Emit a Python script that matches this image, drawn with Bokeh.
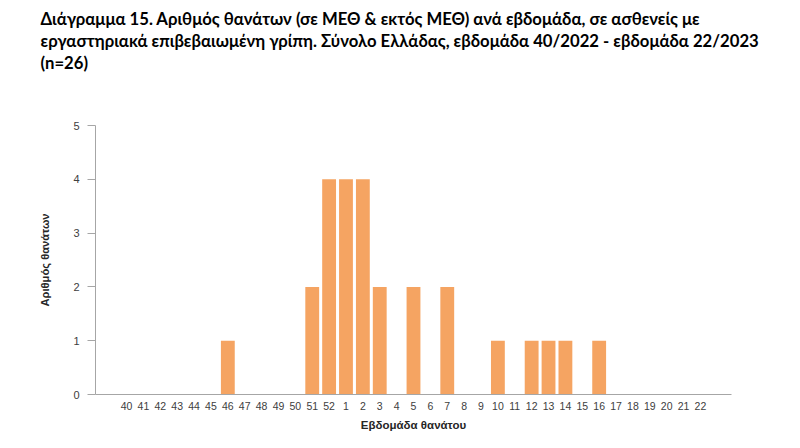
from bokeh.plotting import figure
from bokeh.models import Range1d, FixedTicker, Title, ColumnDataSource
from bokeh.embed import file_html
from bokeh.resources import INLINE

weeks = [str(w) for w in range(40, 53)] + [str(w) for w in range(1, 23)]
deaths = [0, 0, 0, 0, 0, 0, 1, 0, 0, 0, 0, 2, 4,
          4, 4, 2, 0, 2, 0, 2, 0, 0, 1, 0, 1, 1, 1, 0, 1, 0, 0, 0, 0, 0, 0]
y_ticks = [0, 1, 2, 3, 4, 5]
title_lines = [
    "Διάγραμμα 15. Αριθμός θανάτων (σε ΜΕΘ & εκτός ΜΕΘ) ανά εβδομάδα, σε ασθενείς με",
    "εργαστηριακά επιβεβαιωμένη γρίπη. Σύνολο Ελλάδας, εβδομάδα 40/2022 - εβδομάδα 22/2023",
    "(n=26)",
]
x_label = "Εβδομάδα θανάτου"
y_label = "Αριθμός θανάτων"

idx = list(range(len(weeks)))
src = ColumnDataSource(dict(x=idx, top=deaths))

p = figure(width=800, height=448, output_backend="svg", toolbar_location=None,
           x_range=Range1d(-1.84, len(weeks) - 1 + 1.84), y_range=Range1d(0, 5),
           min_border_left=95, min_border_right=69, min_border_top=125, min_border_bottom=54)
p.vbar(x="x", top="top", width=0.82, source=src, fill_color="#F5A462", line_color=None)

p.grid.visible = False
p.outline_line_color = None
p.background_fill_color = "white"
p.border_fill_color = "white"

ax = p.xaxis[0]
ax.ticker = FixedTicker(ticks=idx)
ax.major_label_overrides = {i: w for i, w in zip(idx, weeks)}
ax.major_tick_line_color = None
ax.minor_tick_line_color = None
ax.axis_line_color = "#a6a6a6"
ax.major_label_text_font = "Liberation Sans"
ax.major_label_text_font_size = "10.5px"
ax.major_label_text_color = "#404040"
ax.major_label_standoff = 1
ax.axis_label = x_label
ax.axis_label_text_font = "Liberation Sans"
ax.axis_label_text_font_style = "bold"
ax.axis_label_text_font_size = "11.5px"
ax.axis_label_text_color = "#262626"
ax.axis_label_standoff = 6

ay = p.yaxis[0]
ay.ticker = FixedTicker(ticks=y_ticks)
ay.minor_tick_line_color = None
ay.major_tick_in = 0
ay.major_tick_out = 8
ay.major_tick_line_color = "#a6a6a6"
ay.axis_line_color = "#a6a6a6"
ay.major_label_text_font = "Liberation Sans"
ay.major_label_text_font_size = "11px"
ay.major_label_text_color = "#404040"
ay.major_label_standoff = 8
ay.axis_label = y_label
ay.axis_label_text_font = "Liberation Sans"
ay.axis_label_text_font_style = "bold"
ay.axis_label_text_font_size = "11.2px"
ay.axis_label_text_color = "#262626"
ay.axis_label_standoff = 19

# spacer between title block and plot
p.add_layout(Title(text=" ", text_font_size="1px", standoff=50), "above")
for line in reversed(title_lines):
    t = Title(text=line, align="left", offset=-55, text_font="Lato", text_font_style="bold",
              text_font_size="16.7px", text_color="#000000", standoff=0)
    p.add_layout(t, "above")

open("out.html", "w").write(file_html(p, INLINE))
